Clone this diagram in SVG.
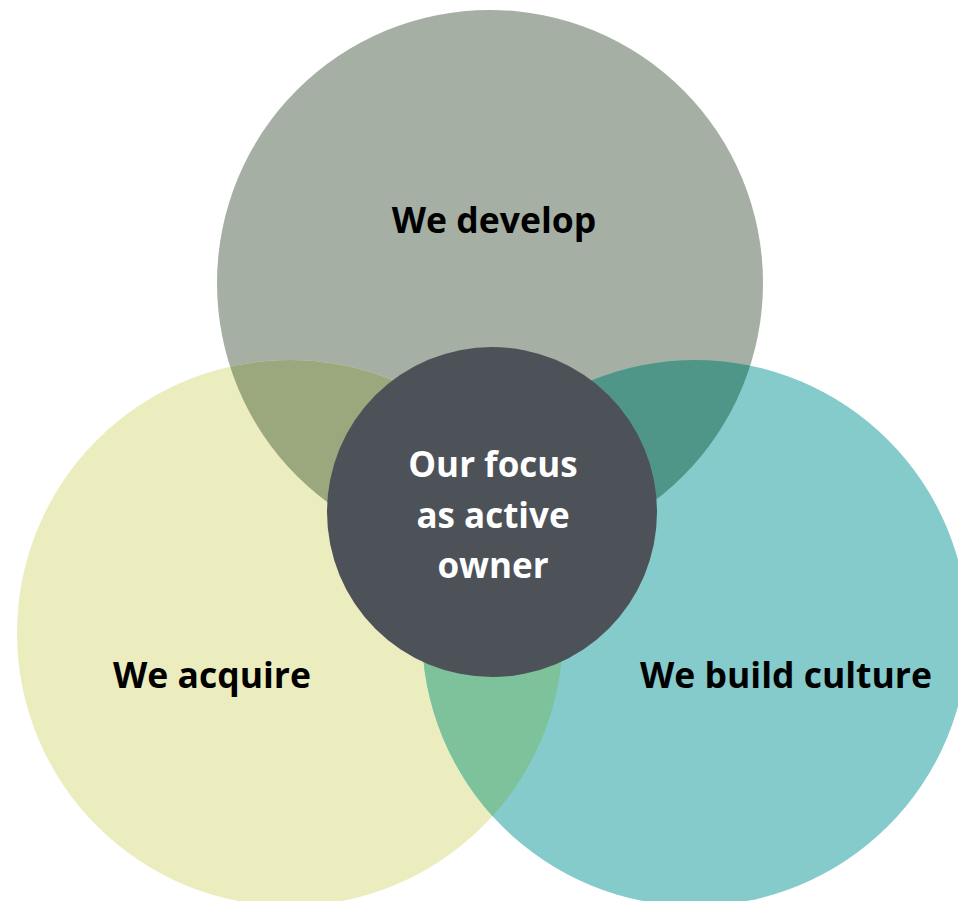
<svg xmlns="http://www.w3.org/2000/svg" width="958" height="901" viewBox="0 0 958 901">
  <style>
    .lbl { font-family: "Open Sans", "Liberation Sans", sans-serif; font-weight: bold; font-size: 35.5px; text-anchor: middle; fill: #000; }
    .ctr { font-family: "Open Sans", "Liberation Sans", sans-serif; font-weight: bold; font-size: 35px; text-anchor: middle; fill: #fff; }
  </style>
  <defs>
    <clipPath id="clipTop"><circle cx="490" cy="283" r="273"/></clipPath>
    <clipPath id="clipLeft"><circle cx="290" cy="633" r="273"/></clipPath>
    <clipPath id="clipRight"><circle cx="695" cy="633" r="273"/></clipPath>
  </defs>
  <rect width="958" height="901" fill="#ffffff"/>
  <g id="develop">
    <circle cx="490" cy="283" r="273" fill="#A5AFA3"/>
  </g>
  <g id="acquire">
    <circle cx="290" cy="633" r="273" fill="#ECEDBF"/>
  </g>
  <g id="culture">
    <circle cx="695" cy="633" r="273" fill="#85CBCC"/>
  </g>
  <g id="overlaps">
    <g clip-path="url(#clipTop)"><circle cx="290" cy="633" r="273" fill="#9BA77C"/></g>
    <g clip-path="url(#clipTop)"><circle cx="695" cy="633" r="273" fill="#4F9688"/></g>
    <g clip-path="url(#clipLeft)"><circle cx="695" cy="633" r="273" fill="#7DC29B"/></g>
  </g>
  <g id="focus">
    <circle cx="492" cy="512" r="165" fill="#4D5259"/>
    <text class="ctr" x="493" y="477">Our focus</text>
    <text class="ctr" x="493" y="528">as active</text>
    <text class="ctr" x="493" y="578">owner</text>
  </g>
  <g id="labels">
    <text class="lbl" x="494" y="233">We develop</text>
    <text class="lbl" x="212" y="688">We acquire</text>
    <text class="lbl" x="786" y="688">We build culture</text>
  </g>
  <g id="connectors"/>
</svg>
